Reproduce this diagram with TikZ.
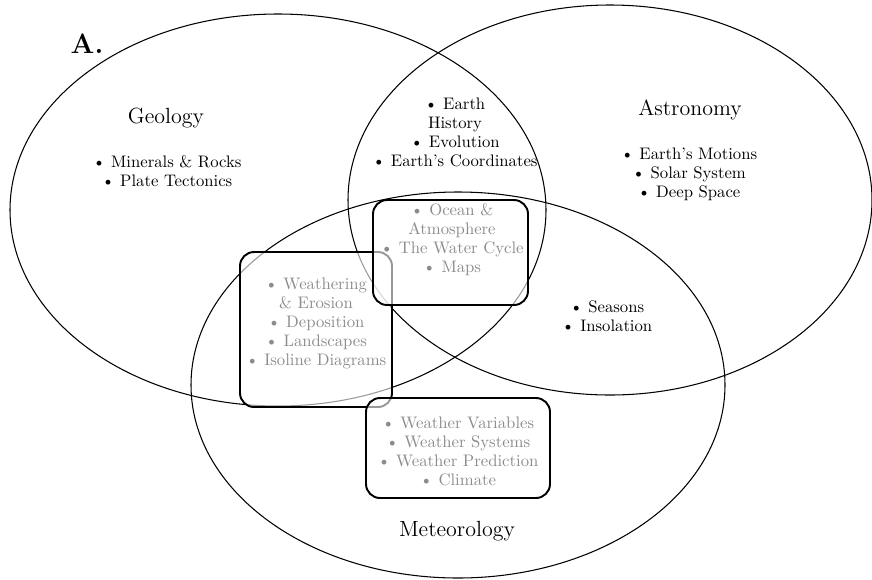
\documentclass[tikz,border=0pt]{standalone}
\usepackage{tikz}
\usetikzlibrary{
  positioning,
  calc
}
\tikzstyle{circ}=[line width=0.6pt]
\tikzstyle{topicbox}=[line width=1.1pt, rounded corners=8pt, fill=white, fill opacity=0.6]
\tikzstyle{field}=[font=\fontsize{12.5}{14}\selectfont]
\tikzstyle{items}=[align=center, inner sep=0pt, font=\fontsize{9.5}{10.8}\selectfont]
\tikzstyle{faded}=[items, text=black!45]

\begin{document}
\begin{tikzpicture}[x=0.02cm, y=-0.02cm]
        \useasboundingbox (0,0) rectangle (872,579);

        % 円の中心と半径
        \coordinate (G) at (278,210);
        \coordinate (S) at (610,200);
        \coordinate (M) at (458,385);

        % 三つの楕円
        \draw[circ] (G) ellipse [x radius=268, y radius=196];
        \draw[circ] (S) ellipse [x radius=262, y radius=195];
        \draw[circ] (M) ellipse [x radius=267, y radius=193];

        % 見出し
        \node (lab) at (87,44) {\fontsize{16}{18}\selectfont\bfseries A.};
        \node[field] (geo) at (166,118) {Geology};
        \node[field] (ast) at (690,110) {Astronomy};
        \node[field] (met) at (457,531) {Meteorology};

        % 各分野の項目
        \node[items] (geoL) at (167,171) {\textbullet\ Minerals \& Rocks\\\textbullet\ Plate Tectonics};
        \node[items] (astL) at (689,174) {\textbullet\ Earth's Motions\\\textbullet\ Solar System\\\textbullet\ Deep Space};
        \node[items] (gaL) at (455,132) {\textbullet\ Earth\\History\\\textbullet\ Evolution\\\textbullet\ Earth's Coordinates};
        \node[items] (amL) at (607,316) {\textbullet\ Seasons\\\textbullet\ Insolation};

        % 角の丸い枠
        \draw[topicbox] (240,252) rectangle (392,407);
        \draw[topicbox] (373,200) rectangle (528,305);
        \draw[topicbox] (366,398) rectangle (550,498);

        % 枠の中の項目
        \node[faded] (gmL) at (316,323) {\textbullet\ Weathering\\\& Erosion\\\textbullet\ Deposition\\\textbullet\ Landscapes\\\textbullet\ Isoline Diagrams};
        \node[faded] (allL) at (452,240) {\textbullet\ Ocean \&\\Atmosphere\\\textbullet\ The Water Cycle\\\textbullet\ Maps};
        \node[faded] (metL) at (458,451) {\textbullet\ Weather Variables\\\textbullet\ Weather Systems\\\textbullet\ Weather Prediction\\\textbullet\ Climate};
      \end{tikzpicture}
\end{document}
